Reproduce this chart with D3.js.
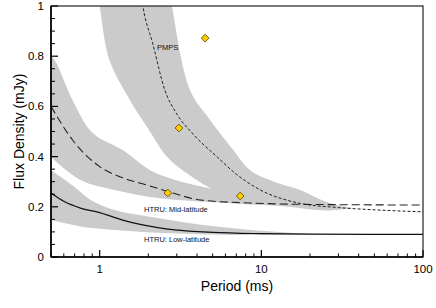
<!DOCTYPE html>
<html>
<head>
<meta charset="utf-8">
<script src="https://cdn.jsdelivr.net/npm/d3@7"></script>
<style>
  body { margin: 0; background: #fff; }
  svg { display: block; font-family: "Liberation Sans", Arial, Helvetica, sans-serif; }
</style>
</head>
<body>
<div id="chart"></div>
<script>
// curves: [period ms, flux mJy]
const pmpsLine = [[1.8,1.05],[1.85,1.0],[2.13,0.85],[2.53,0.665],[3.0,0.57],[3.78,0.49],[5.3,0.40],[7,0.33],[9.86,0.267],[17,0.215],[30,0.197],[50,0.188],[100,0.18]];
const midLine = [[0.5,0.6],[0.68,0.466],[1,0.36],[1.4,0.315],[2,0.285],[3,0.25],[4.2,0.227],[8.5,0.215],[17,0.21],[100,0.207]];
const lowLine = [[0.5,0.255],[0.6,0.222],[0.76,0.195],[1,0.177],[1.24,0.157],[1.5,0.141],[2.29,0.117],[2.92,0.108],[5,0.098],[10,0.093],[20,0.091],[100,0.09]];

// shaded bands: two edges joined into one polygon
const pmpsInner = [[0.97,1.05],[1,1],[1.15,0.785],[1.54,0.625],[2.0,0.51],[2.6,0.40],[3.27,0.345],[5.3,0.262],[8,0.225],[15,0.2],[25,0.185],[37,0.195]];
const pmpsOuter = [[2.72,1.05],[2.8,1.0],[3.62,0.665],[4.82,0.546],[6.7,0.426],[8.5,0.347],[12,0.30],[17.4,0.267],[24,0.225],[30,0.205],[37,0.195]];
const midUpper = [[0.48,0.81],[0.526,0.785],[0.68,0.625],[0.905,0.494],[1.39,0.426],[2.04,0.347],[2.84,0.31],[4,0.285],[6,0.262],[10,0.24],[20,0.215],[32,0.205]];
const midLower = [[0.48,0.41],[0.5,0.398],[0.76,0.307],[1.24,0.267],[2.29,0.235],[5,0.218],[10,0.207],[17,0.2],[32,0.205]];
const lowUpper = [[0.48,0.355],[0.5,0.347],[0.70,0.279],[0.88,0.227],[1.24,0.187],[2.29,0.155],[4,0.13],[8,0.11],[15,0.097],[25,0.091]];
const lowLower = [[0.48,0.15],[0.5,0.147],[0.76,0.122],[1.24,0.108],[2.29,0.097],[5,0.09],[10,0.088],[25,0.091]];

// detected pulsars
const pulsars = [[4.49,0.872],[3.09,0.514],[2.64,0.255],[7.4,0.243]];

const xTicks = [1, 10, 100];
const yTicks = [0, 0.2, 0.4, 0.6, 0.8, 1];

const width = 436, height = 308;
const margin = {top: 6, right: 13, bottom: 51, left: 51};

const svg = d3.select("#chart").append("svg")
  .attr("width", width)
  .attr("height", height);

const x = d3.scaleLog().domain([0.5, 100]).range([margin.left, width - margin.right]);
const y = d3.scaleLinear().domain([0, 1]).range([height - margin.bottom, margin.top]);

svg.append("clipPath").attr("id", "plot")
  .append("rect")
  .attr("x", margin.left).attr("y", margin.top)
  .attr("width", x.range()[1] - margin.left)
  .attr("height", y(0) - margin.top);

const g = svg.append("g").attr("clip-path", "url(#plot)");

const band = (a, b) => {
  const pts = a.concat(b.slice().reverse());
  return d3.line().x(d => x(d[0])).y(d => y(d[1])).curve(d3.curveCatmullRomClosed)(pts);
};

[[pmpsInner, pmpsOuter], [midUpper, midLower], [lowUpper, lowLower]].forEach(([a, b]) => {
  g.append("path").attr("d", band(a, b)).attr("fill", "#cbcbcb");
});

const line = d3.line().x(d => x(d[0])).y(d => y(d[1])).curve(d3.curveMonotoneX);

g.append("path").attr("d", line(pmpsLine))
  .attr("fill", "none").attr("stroke", "#222").attr("stroke-width", 1)
  .attr("stroke-dasharray", "3,2");
g.append("path").attr("d", line(midLine))
  .attr("fill", "none").attr("stroke", "#222").attr("stroke-width", 1.1)
  .attr("stroke-dasharray", "8,4");
g.append("path").attr("d", line(lowLine))
  .attr("fill", "none").attr("stroke", "#111").attr("stroke-width", 1.2);

g.selectAll(".psr").data(pulsars).join("path")
  .attr("class", "psr")
  .attr("d", d3.symbol().type(d3.symbolSquare).size(30))
  .attr("transform", d => `translate(${x(d[0])},${y(d[1])}) rotate(45)`)
  .attr("fill", "#ffcc00")
  .attr("stroke", "#5c4b00")
  .attr("stroke-width", 0.8);

// labels on the curves
const labels = [
  {text: "PMPS", p: 2.26, v: 0.825},
  {text: "HTRU: Mid-latitude", p: 1.88, v: 0.178},
  {text: "HTRU: Low-latitude", p: 1.88, v: 0.06}
];
svg.selectAll(".lbl").data(labels).join("text")
  .attr("class", "lbl")
  .attr("x", d => x(d.p)).attr("y", d => y(d.v))
  .attr("font-size", 7.5).attr("fill", "#111")
  .text(d => d.text);

// frame
svg.append("rect")
  .attr("x", margin.left).attr("y", margin.top)
  .attr("width", x.range()[1] - margin.left)
  .attr("height", y(0) - margin.top)
  .attr("fill", "none").attr("stroke", "#222").attr("stroke-width", 1.2);

// x axis, ticks pointing up
const xMinor = [];
[0.1, 1, 10].forEach(d => {
  for (let k = 2; k < 10; k++) {
    const v = d * k;
    if (v >= 0.5 && v <= 100) xMinor.push(v);
  }
});
const xAxis = svg.append("g").attr("transform", `translate(0,${y(0)})`);
xAxis.append("line").attr("x1", margin.left).attr("x2", x.range()[1])
  .attr("stroke", "#000").attr("stroke-width", 1.6);
xAxis.selectAll(".mi").data(xMinor).join("line")
  .attr("x1", d => x(d)).attr("x2", d => x(d)).attr("y1", 0).attr("y2", -3.5)
  .attr("stroke", "#000").attr("stroke-width", 1);
xAxis.selectAll(".ma").data(xTicks).join("line")
  .attr("x1", d => x(d)).attr("x2", d => x(d)).attr("y1", 0).attr("y2", -7)
  .attr("stroke", "#000").attr("stroke-width", 1.2);
xAxis.selectAll("text").data(xTicks).join("text")
  .attr("x", d => x(d)).attr("y", 16)
  .attr("text-anchor", "middle").attr("font-size", 11.5)
  .text(d => d);

// y axis, ticks pointing right
const yMinor = d3.range(0, 1.001, 0.05).filter(v => Math.round(v * 20) % 4 !== 0);
const yAxis = svg.append("g").attr("transform", `translate(${margin.left},0)`);
yAxis.append("line").attr("y1", margin.top).attr("y2", y(0))
  .attr("stroke", "#000").attr("stroke-width", 1.6);
yAxis.selectAll(".mi").data(yMinor).join("line")
  .attr("y1", d => y(d)).attr("y2", d => y(d)).attr("x1", 0).attr("x2", 4)
  .attr("stroke", "#000").attr("stroke-width", 1);
yAxis.selectAll(".ma").data(yTicks).join("line")
  .attr("y1", d => y(d)).attr("y2", d => y(d)).attr("x1", 0).attr("x2", 7)
  .attr("stroke", "#000").attr("stroke-width", 1.2);
yAxis.selectAll("text").data(yTicks).join("text")
  .attr("x", -7).attr("y", d => y(d)).attr("dy", "0.35em")
  .attr("text-anchor", "end").attr("font-size", 11.5)
  .text(d => d);

// axis titles
svg.append("text")
  .attr("x", (margin.left + x.range()[1]) / 2).attr("y", 291)
  .attr("text-anchor", "middle").attr("font-size", 14)
  .text("Period (ms)");
svg.append("text")
  .attr("transform", `translate(24,${(margin.top + y(0)) / 2}) rotate(-90)`)
  .attr("text-anchor", "middle").attr("font-size", 14)
  .text("Flux Density (mJy)");
</script>
</body>
</html>
